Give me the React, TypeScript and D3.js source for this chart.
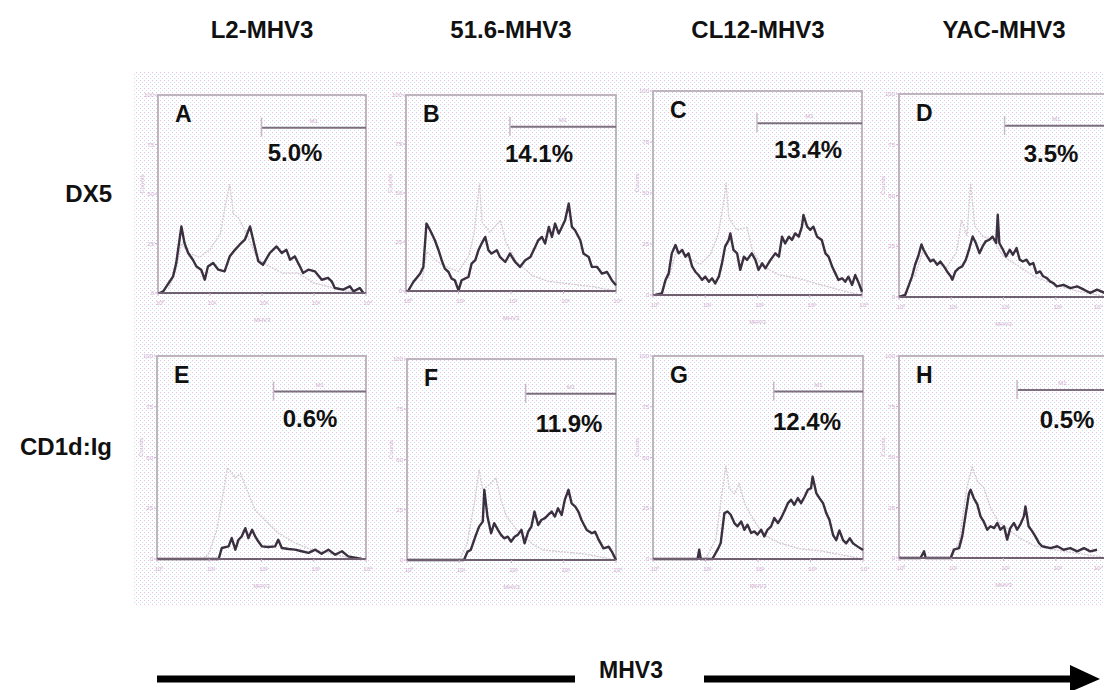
import React from "react";
import * as d3 from "d3";

// ---------- DATA ----------
const columnTitles = ["L2-MHV3", "51.6-MHV3", "CL12-MHV3", "YAC-MHV3"];
const rowLabels = ["DX5", "CD1d:Ig"];
const panelLetters = ["A", "B", "C", "D", "E", "F", "G", "H"];
const percentLabels = ["5.0%", "14.1%", "13.4%", "3.5%", "0.6%", "11.9%", "12.4%", "0.5%"];
const gateStart = [1.99, 1.98, 1.99, 2.02, 2.23, 2.27, 2.3, 2.26]; // log10 MHV3
const gateLevel = [83.5, 83.8, 84.2, 84.3, 82.5, 82.7, 82.5, 83.2]; // counts scale
const xTickValues = [0, 1, 2, 3, 4];
const xTickLabels = ["10⁰", "10¹", "10²", "10³", "10⁴"];
const yTickValues = [0, 25, 50, 75, 100];
const yTickLabels = ["0", "25", "50", "75", "100"];
const axisArrowLabel = "MHV3";

// [log10 intensity, counts]
const mainA: [number, number][] = [
  [0.03, 0], [0.1, 0.8], [0.29, 8.4], [0.35, 15.1], [0.45, 33.6], [0.51, 25.2], [0.58, 20.2], [0.67, 16.8],
  [0.74, 13.4], [0.83, 11.8], [0.9, 6.7], [0.96, 13.4], [1.06, 15.1], [1.16, 11.8], [1.28, 10.9], [1.38, 18.5],
  [1.48, 21.8], [1.57, 24.4], [1.67, 26.9], [1.77, 33.6], [1.86, 23.5], [1.93, 16.0], [2.02, 14.3], [2.15, 20.2],
  [2.28, 23.5], [2.38, 20.2], [2.47, 21.8], [2.54, 16.8], [2.63, 18.5], [2.73, 13.4], [2.79, 10.1], [2.89, 11.8],
  [3.02, 10.9], [3.15, 6.7], [3.27, 7.6], [3.34, 5.9], [3.4, 2.5], [3.56, 1.7], [3.69, 3.4], [3.76, 0.8],
  [3.88, 2.5], [3.95, 0],
];
const ctrlA: [number, number][] = [
  [0.2, 2], [0.35, 12], [0.45, 25], [0.6, 20], [0.8, 18], [1.0, 22], [1.2, 30], [1.3, 45], [1.38, 55],
  [1.45, 40], [1.55, 38], [1.7, 30], [1.9, 18], [2.1, 14], [2.4, 10], [2.7, 10], [3.0, 5], [3.3, 3], [3.6, 1], [4.0, 0],
];
const mainB: [number, number][] = [
  [0.04, 0], [0.14, 4.6], [0.27, 8.9], [0.33, 12.3], [0.39, 34.4], [0.46, 31.0], [0.55, 25.9], [0.62, 20.8],
  [0.68, 15.7], [0.74, 11.4], [0.81, 9.7], [0.87, 6.3], [0.93, 5.5], [1.0, 0.3], [1.06, 5.5], [1.19, 7.2],
  [1.25, 14.0], [1.32, 15.7], [1.38, 20.8], [1.44, 24.2], [1.51, 27.6], [1.57, 20.8], [1.63, 19.1], [1.73, 20.8],
  [1.79, 17.4], [1.89, 14.8], [1.98, 19.1], [2.08, 14.8], [2.17, 12.3], [2.27, 15.7], [2.37, 17.4], [2.46, 22.5],
  [2.52, 25.9], [2.59, 27.6], [2.65, 24.2], [2.72, 32.7], [2.78, 27.6], [2.84, 34.4], [2.91, 29.3], [2.97, 32.7],
  [3.03, 36.1], [3.1, 44.6], [3.16, 32.7], [3.22, 31.0], [3.32, 25.9], [3.38, 19.1], [3.48, 17.4], [3.54, 12.3],
  [3.64, 12.3], [3.73, 8.9], [3.83, 9.7], [3.92, 5.5], [4.0, 2.9],
];
const ctrlB: [number, number][] = [
  [0.3, 5], [0.4, 20], [0.6, 15], [0.8, 12], [1.0, 10], [1.2, 18], [1.3, 30], [1.4, 55], [1.45, 35], [1.6, 30],
  [1.8, 36], [1.9, 25], [2.1, 15], [2.4, 8], [2.7, 5], [3.0, 4], [3.3, 3], [3.6, 2], [4.0, 0],
];
const mainC: [number, number][] = [
  [0.04, 0], [0.17, 0.8], [0.24, 7.4], [0.3, 10.6], [0.36, 20.4], [0.43, 24.5], [0.49, 20.4], [0.56, 22.1],
  [0.62, 18.8], [0.68, 20.4], [0.75, 13.9], [0.81, 11.4], [0.87, 9.8], [0.94, 7.4], [1.0, 9.0], [1.07, 6.5],
  [1.13, 8.2], [1.19, 5.7], [1.26, 9.0], [1.32, 15.5], [1.38, 23.7], [1.45, 27.0], [1.48, 30.2], [1.54, 22.1],
  [1.61, 20.4], [1.67, 12.3], [1.74, 18.8], [1.8, 17.2], [1.89, 20.4], [1.96, 17.2], [2.02, 12.3], [2.09, 15.5],
  [2.15, 13.1], [2.25, 17.2], [2.34, 20.4], [2.41, 18.8], [2.47, 28.6], [2.53, 25.3], [2.6, 28.6], [2.66, 27.0],
  [2.72, 30.2], [2.79, 28.6], [2.85, 33.5], [2.88, 39.2], [2.95, 33.5], [3.01, 31.9], [3.07, 33.5], [3.14, 28.6],
  [3.23, 27.0], [3.3, 20.4], [3.36, 18.8], [3.43, 13.9], [3.49, 10.6], [3.55, 7.4], [3.62, 8.2], [3.68, 6.5],
  [3.74, 9.0], [3.81, 4.9], [3.87, 9.8], [3.94, 5.7], [4.0, 1.6],
];
const ctrlC: [number, number][] = [
  [0.3, 8], [0.45, 22], [0.7, 18], [0.9, 15], [1.1, 20], [1.25, 30], [1.35, 45], [1.4, 55], [1.45, 38], [1.6, 32],
  [1.8, 33], [1.9, 22], [2.1, 14], [2.4, 10], [2.8, 8], [3.2, 5], [3.5, 3], [3.8, 1], [4.0, 0],
];
const mainD: [number, number][] = [
  [0, 0], [0.12, 1.1], [0.18, 5.2], [0.25, 10.2], [0.31, 16.0], [0.37, 20.2], [0.43, 25.9], [0.47, 23.3],
  [0.54, 20.0], [0.6, 17.5], [0.66, 18.4], [0.73, 15.9], [0.79, 17.5], [0.86, 15.1], [0.92, 12.6], [0.99, 10.2],
  [1.02, 8.5], [1.08, 12.6], [1.15, 14.3], [1.21, 15.1], [1.28, 18.4], [1.34, 23.3], [1.41, 29.8], [1.47, 26.6],
  [1.54, 21.6], [1.6, 24.9], [1.66, 27.4], [1.73, 28.2], [1.79, 29.8], [1.86, 26.6], [1.89, 40.5], [1.92, 26.6],
  [1.99, 23.3], [2.05, 20.0], [2.12, 23.3], [2.18, 20.8], [2.25, 24.1], [2.31, 18.4], [2.37, 17.5], [2.44, 18.4],
  [2.5, 15.9], [2.57, 16.7], [2.63, 11.8], [2.7, 12.6], [2.76, 10.2], [2.83, 9.3], [2.89, 7.7], [2.95, 6.9],
  [3.02, 5.2], [3.15, 6.0], [3.28, 4.4], [3.41, 5.2], [3.54, 3.6], [3.66, 2.0], [3.79, 3.6], [3.94, 2.0],
];
const ctrlD: [number, number][] = [
  [0.3, 10], [0.45, 22], [0.7, 17], [0.9, 14], [1.1, 22], [1.2, 38], [1.3, 30], [1.37, 56], [1.45, 35], [1.6, 30],
  [1.8, 28], [2.0, 20], [2.3, 15], [2.6, 10], [3.0, 6], [3.4, 3], [3.8, 1], [4.0, 0],
];
const mainE: [number, number][] = [
  [0, 0], [1.18, 0], [1.24, 5.4], [1.37, 6.2], [1.43, 10.3], [1.5, 4.6], [1.56, 9.5], [1.62, 11.1], [1.69, 15.2],
  [1.75, 10.3], [1.82, 14.4], [1.88, 11.1], [1.94, 8.6], [2.01, 6.2], [2.13, 5.9], [2.26, 6.2], [2.32, 9.5],
  [2.39, 5.4], [2.52, 4.9], [2.64, 4.6], [2.77, 3.8], [2.9, 3.0], [3.03, 4.6], [3.15, 2.6], [3.28, 4.6],
  [3.41, 2.1], [3.54, 3.8], [3.66, 1.3], [3.92, 0],
];
const ctrlE: [number, number][] = [
  [0.9, 0], [1.0, 3], [1.15, 15], [1.25, 30], [1.35, 45], [1.5, 40], [1.6, 42], [1.69, 36], [1.88, 24], [2.13, 17.7],
  [2.32, 12.8], [2.64, 7.9], [2.96, 4.6], [3.28, 3], [3.6, 1], [4.0, 0],
];
const mainF: [number, number][] = [
  [0, 0], [1.09, 0], [1.16, 4.2], [1.22, 5.0], [1.32, 12.5], [1.38, 16.6], [1.45, 19.1], [1.48, 34.9], [1.54, 21.6],
  [1.61, 13.3], [1.67, 18.3], [1.74, 15.0], [1.8, 12.5], [1.86, 10.8], [1.93, 11.6], [1.99, 9.1], [2.06, 11.6],
  [2.12, 12.5], [2.19, 15.0], [2.25, 8.3], [2.32, 14.1], [2.38, 16.6], [2.44, 24.1], [2.51, 17.4], [2.57, 19.9],
  [2.64, 20.8], [2.7, 22.4], [2.77, 24.1], [2.83, 21.6], [2.89, 25.7], [2.96, 22.4], [3.02, 29.9], [3.09, 34.9],
  [3.15, 28.2], [3.22, 26.6], [3.28, 24.1], [3.34, 19.9], [3.44, 14.9], [3.54, 13.3], [3.6, 14.1], [3.67, 10.0],
  [3.76, 5.8], [3.86, 6.6], [3.92, 4.2], [4.0, 0],
];
const ctrlF: [number, number][] = [
  [1.0, 0], [1.15, 8], [1.3, 30], [1.38, 45], [1.45, 35], [1.6, 38], [1.7, 41], [1.8, 30], [1.9, 22], [2.1, 15],
  [2.4, 8], [2.6, 5], [3.0, 4], [3.4, 3], [3.8, 1], [4.0, 0],
];
const mainG: [number, number][] = [
  [0, 0], [0.85, 0], [0.88, 4.6], [0.91, 0], [1.13, 0], [1.23, 4.6], [1.29, 7.9], [1.36, 22.6], [1.42, 23.4],
  [1.48, 21.8], [1.55, 17.7], [1.61, 16.1], [1.68, 18.5], [1.74, 14.4], [1.8, 16.9], [1.87, 12.8], [1.93, 13.6],
  [1.99, 12.0], [2.06, 14.4], [2.12, 11.1], [2.18, 14.4], [2.25, 16.1], [2.31, 20.2], [2.38, 17.7], [2.44, 20.2],
  [2.5, 23.4], [2.57, 27.5], [2.63, 29.2], [2.69, 26.7], [2.76, 30.0], [2.82, 27.5], [2.89, 30.8], [2.95, 34.1],
  [3.01, 34.9], [3.04, 40.6], [3.11, 32.5], [3.17, 30.0], [3.24, 27.5], [3.3, 22.6], [3.36, 19.3], [3.43, 11.8],
  [3.49, 9.3], [3.55, 14.1], [3.62, 9.3], [3.68, 7.7], [3.75, 10.2], [3.81, 7.7], [3.9, 6.1], [4.0, 4.4],
];
const ctrlG: [number, number][] = [
  [1.0, 0], [1.2, 10], [1.3, 30], [1.39, 46], [1.45, 35], [1.55, 32], [1.64, 37], [1.75, 27], [1.9, 20], [2.1, 12],
  [2.4, 8], [2.8, 5], [3.2, 4], [3.6, 2], [4.0, 0],
];
const mainH: [number, number][] = [
  [0, 0], [0.41, 0], [0.48, 3.3], [0.51, 0], [0.99, 0], [1.05, 4.1], [1.15, 4.9], [1.21, 10.7], [1.27, 20.6],
  [1.34, 32.1], [1.37, 33.8], [1.43, 29.7], [1.5, 26.4], [1.56, 20.6], [1.62, 18.1], [1.69, 14.0], [1.75, 15.7],
  [1.82, 14.8], [1.88, 17.3], [1.94, 14.0], [2.01, 15.7], [2.07, 9.1], [2.13, 14.8], [2.2, 17.3], [2.26, 14.0],
  [2.32, 16.5], [2.39, 20.6], [2.42, 25.5], [2.48, 15.7], [2.55, 13.2], [2.61, 10.7], [2.68, 7.4], [2.74, 5.8],
  [2.9, 4.9], [3.03, 5.8], [3.15, 4.1], [3.28, 4.9], [3.41, 3.3], [3.54, 4.9], [3.66, 3.3], [3.79, 4.1],
];
const ctrlH: [number, number][] = [
  [1.0, 0], [1.15, 8], [1.3, 35], [1.4, 45], [1.5, 38], [1.62, 35], [1.75, 25], [1.9, 18], [2.1, 14], [2.3, 10],
  [2.6, 6], [3.0, 4], [3.5, 2], [4.0, 0],
];

const mainSeries = [mainA, mainB, mainC, mainD, mainE, mainF, mainG, mainH];
const ctrlSeries = [ctrlA, ctrlB, ctrlC, ctrlD, ctrlE, ctrlF, ctrlG, ctrlH];

// ---------- LAYOUT ----------
const W = 1104;
const H = 690;
// panel frames: [left, top, right, bottom]
const panelRects = [
  [158, 95, 366, 293],
  [406, 95, 616, 291],
  [653, 91, 862, 295],
  [899, 94, 1108, 297],
  [157, 356, 366, 559],
  [407, 359, 616, 560],
  [653, 356, 863, 559],
  [899, 356, 1108, 558],
];
const pctOffsetX = [137, 133, 155, 152, 153, 162, 154, 168];
const pctOffsetY = [66, 67, 67, 68, 71, 73, 74, 72];
const titleX = [262, 511, 758, 1004];
const rowLabelY = [202, 455];

const FONT = "'Liberation Sans', Arial, Helvetica, sans-serif";
const faint = "#d2b0d2";

function Panel({ i }: { i: number }) {
  const [l, t, r, b] = panelRects[i];
  const x = d3.scaleLinear().domain([0, 4]).range([l, r]);
  const y = d3.scaleLinear().domain([0, 100]).range([b, t]);
  const line = d3
    .line<[number, number]>()
    .x((d) => x(d[0]))
    .y((d) => y(d[1]));
  const gy = y(gateLevel[i]);
  const gx = x(gateStart[i]);
  return (
    <g>
      {/* frame */}
      <rect x={l} y={t} width={r - l} height={b - t} fill="none" stroke="#b9aeb9" strokeWidth={1.8} />
      {/* control histogram */}
      <path d={line(ctrlSeries[i]) || ""} fill="none" stroke="#d3c8d3" strokeWidth={1.3} strokeDasharray="2 1" />
      {/* sample histogram */}
      <path d={line(mainSeries[i]) || ""} fill="none" stroke="#3a3040" strokeWidth={2.4} strokeLinejoin="round" />
      {/* bottom axis */}
      <line x1={l} x2={r} y1={b} y2={b} stroke="#6e6070" strokeWidth={2.2} />
      {/* x ticks */}
      {xTickValues.map((v, k) => {
        const tx = x(v) + 2;
        const edge = tx > W - 8;
        return (
          <g key={k}>
            <line x1={x(v)} x2={x(v)} y1={b} y2={b + 3} stroke={faint} strokeWidth={1} />
            <text
              x={edge ? W - 1 : tx}
              y={b + 12}
              fontSize={6}
              fill={faint}
              textAnchor={edge ? "end" : "middle"}
              fontFamily={FONT}
            >
              {xTickLabels[k]}
            </text>
          </g>
        );
      })}
      <text x={(l + r) / 2} y={b + 29} fontSize={6} fill={faint} textAnchor="middle" fontFamily={FONT}>
        MHV3
      </text>
      {/* y ticks */}
      {yTickValues.map((v, k) => (
        <g key={k}>
          <line x1={l - 3} x2={l} y1={y(v)} y2={y(v)} stroke={faint} strokeWidth={1} />
          <text x={l - 4} y={y(v) + 2} fontSize={6} fill={faint} textAnchor="end" fontFamily={FONT}>
            {yTickLabels[k]}
          </text>
        </g>
      ))}
      <text
        transform={`translate(${l - 14},${y(55)}) rotate(-90)`}
        fontSize={6}
        fill={faint}
        textAnchor="middle"
        fontFamily={FONT}
      >
        Counts
      </text>
      {/* gate marker */}
      <line x1={gx} x2={r} y1={gy} y2={gy} stroke="#7c7080" strokeWidth={2} />
      <line x1={gx} x2={gx} y1={gy - 10} y2={gy + 9} stroke="#c8b8c8" strokeWidth={1.5} />
      <text x={(gx + r) / 2} y={gy - 5} fontSize={6} fill={faint} textAnchor="middle" fontFamily={FONT}>
        M1
      </text>
      {/* percent */}
      <text
        x={l + pctOffsetX[i]}
        y={t + pctOffsetY[i]}
        fontSize={24}
        fontWeight="bold"
        fill="#111"
        textAnchor="middle"
        fontFamily={FONT}
      >
        {percentLabels[i]}
      </text>
      {/* letter */}
      <text x={l + 17} y={t + 27} fontSize={23} fontWeight="bold" fill="#111" fontFamily={FONT}>
        {panelLetters[i]}
      </text>
    </g>
  );
}

export default function App() {
  return (
    <svg
      width={W}
      height={H}
      style={{ position: "absolute", left: 0, top: 0, background: "#fff" }}
      xmlns="http://www.w3.org/2000/svg"
    >
      <defs>
        <pattern id="dots" width="4" height="4" patternUnits="userSpaceOnUse">
          <rect x="0" y="0" width="1" height="1" fill="#e3c0e3" />
          <rect x="2" y="2" width="1" height="1" fill="#c6e3e3" />
        </pattern>
      </defs>
      <rect x={0} y={0} width={W} height={H} fill="#fff" />
      <rect x={133} y={72} width={W - 133} height={533} fill="url(#dots)" />
      {columnTitles.map((c, k) => (
        <text
          key={c}
          x={titleX[k]}
          y={38}
          fontSize={24}
          fontWeight="bold"
          fill="#111"
          textAnchor="middle"
          fontFamily={FONT}
        >
          {c}
        </text>
      ))}
      {rowLabels.map((c, k) => (
        <text
          key={c}
          x={112}
          y={rowLabelY[k]}
          fontSize={24}
          fontWeight="bold"
          fill="#111"
          textAnchor="end"
          fontFamily={FONT}
        >
          {c}
        </text>
      ))}
      {panelLetters.map((_, i) => (
        <Panel key={i} i={i} />
      ))}
      {/* bottom arrow */}
      <line x1={157} x2={575} y1={679} y2={679} stroke="#000" strokeWidth={7} />
      <text x={631} y={678} fontSize={23} fontWeight="bold" fill="#111" textAnchor="middle" fontFamily={FONT}>
        {axisArrowLabel}
      </text>
      <line x1={704} x2={1075} y1={679} y2={679} stroke="#000" strokeWidth={7} />
      <path d="M1070,665 L1100,679 L1070,692 Z" fill="#000" />
    </svg>
  );
}
